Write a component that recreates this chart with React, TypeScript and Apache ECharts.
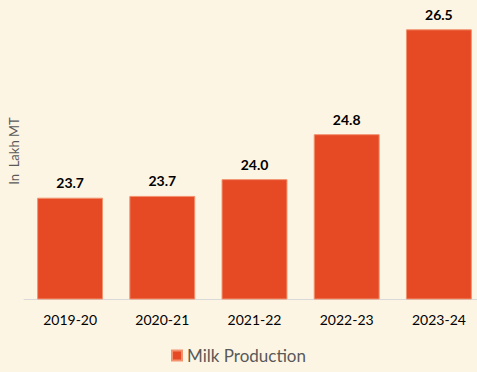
import React, { useEffect, useRef } from "react";
import * as echarts from "echarts";

const categories = ["2019-20", "2020-21", "2021-22", "2022-23", "2023-24"];
const milkProduction = [23.69, 23.72, 24.0, 24.75, 26.5];
const seriesName = "Milk Production";
const yAxisName = "In  Lakh MT";

export default function App() {
  const ref = useRef<HTMLDivElement>(null);
  useEffect(() => {
    if (!ref.current) return;
    const chart = echarts.init(ref.current, undefined, { renderer: "svg" });
    const font = "Lato, 'Open Sans', sans-serif";
    chart.setOption({
      animation: false,
      backgroundColor: "#FDF5E4",
      textStyle: { fontFamily: font },
      grid: {
        left: 24,
        width: 461,
        top: 29.3,
        bottom: 73,
        containLabel: false,
        outerBoundsMode: "none",
      },
      legend: {
        bottom: 3,
        left: "center",
        itemWidth: 10,
        itemHeight: 10,
        itemGap: 5,
        icon: "rect",
        textStyle: { color: "#595959", fontSize: 17, fontFamily: font },
        data: [seriesName],
      },
      graphic: [
        {
          type: "text",
          x: 14,
          y: 151,
          rotation: Math.PI / 2,
          style: {
            text: yAxisName,
            fill: "#595959",
            fontSize: 13,
            fontFamily: font,
            align: "center",
            verticalAlign: "middle",
          },
        },
      ],
      xAxis: {
        type: "category",
        data: categories,
        axisLine: { show: true, lineStyle: { color: "#D9D9D9", width: 1 } },
        axisTick: { show: false },
        axisLabel: { color: "#000", fontSize: 14, margin: 13, fontFamily: font },
      },
      yAxis: {
        type: "value",
        min: 22,
        max: 26.5,
        axisLine: { show: false },
        axisTick: { show: false },
        axisLabel: { show: false },
        splitLine: { show: false },
      },
      series: [
        {
          name: seriesName,
          type: "bar",
          data: milkProduction,
          barWidth: "71.5%",
          itemStyle: { color: "#E54A24", borderColor: "#F2926F", borderWidth: 1 },
          label: {
            show: true,
            position: "top",
            distance: 8,
            color: "#000",
            fontWeight: "bold",
            fontSize: 14,
            fontFamily: font,
            formatter: (p: any) => Number(p.value).toFixed(1),
          },
        },
      ],
    });
    return () => chart.dispose();
  }, []);
  return (
    <div
      ref={ref}
      style={{ position: "fixed", left: 0, top: 0, width: 477, height: 372 }}
    />
  );
}
